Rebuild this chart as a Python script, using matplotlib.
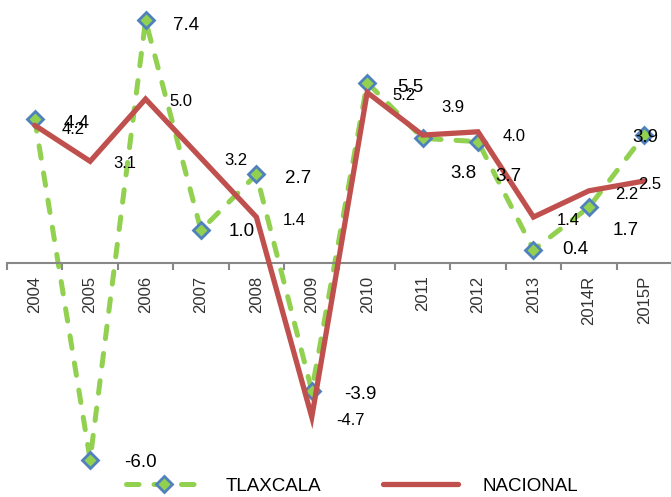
import matplotlib.pyplot as plt
import matplotlib.lines as mlines

plt.rcParams['font.family'] = ['Liberation Sans', 'DejaVu Sans']

# data
years = ['2004', '2005', '2006', '2007', '2008', '2009', '2010',
         '2011', '2012', '2013', '2014R', '2015P']
tlaxcala = [4.4, -6.0, 7.4, 1.0, 2.7, -3.9, 5.5, 3.8, 3.7, 0.4, 1.7, 3.9]
nacional = [4.2, 3.1, 5.0, 3.2, 1.4, -4.7, 5.2, 3.9, 4.0, 1.4, 2.2, 2.5]

# label offsets in pixels (dx, dy)
off_tlax = [(42, -5), (50, -3), (41, -5), (41, -1), (42, -4), (49, -4),
            (43, -5), (41, -35), (30, -35), (42, 0), (37, -23), (1, -2)]
off_nac = [(38, -4), (35, -2), (35, -2), (35, -2), (38, -3), (39, -3),
           (37, -3), (30, 28), (36, -5), (35, -3), (38, -4), (5, -4)]

GREEN = '#92D050'
BLUE = '#4F81BD'
RED = '#C0504D'

fig = plt.figure(figsize=(6.71, 4.97), dpi=100)
ax = fig.add_axes([7 / 671, 17 / 497, 665 / 671, 480 / 497])

x = list(range(len(years)))

ax.plot(x, tlaxcala, color=GREEN, lw=3.6, dashes=(2.5, 3.0),
        dash_capstyle='round', marker='D', markersize=8,
        markerfacecolor=GREEN, markeredgecolor=BLUE, markeredgewidth=2,
        zorder=2)
ax.plot(x, nacional, color=RED, lw=3.8, solid_capstyle='round',
        solid_joinstyle='miter', zorder=3)

for xi, v, (dx, dy) in zip(x, tlaxcala, off_tlax):
    ax.annotate(f'{v:.1f}', (xi, v), xytext=(dx, dy), textcoords='offset pixels',
                ha='center', va='center', fontsize=13.5, color='black', zorder=5)
for xi, v, (dx, dy) in zip(x, nacional, off_nac):
    ax.annotate(f'{v:.1f}', (xi, v), xytext=(dx, dy), textcoords='offset pixels',
                ha='center', va='center', fontsize=12, color='black', zorder=5)

ax.set_xlim(-0.5, len(years) - 0.5)
ax.set_ylim(-6.62, 8.02)

for s in ['top', 'right', 'left']:
    ax.spines[s].set_visible(False)
ax.spines['bottom'].set_position(('data', 0))
ax.spines['bottom'].set_color('#888888')
ax.spines['bottom'].set_linewidth(1.5)
ax.set_yticks([])

ax.set_xticks(x)
ax.set_xticklabels(years, rotation=90, fontsize=12, color='#333333')
ax.tick_params(axis='x', which='major', length=0, pad=9)
ax.set_xticks([i - 0.5 for i in range(len(years) + 1)], minor=True)
ax.tick_params(axis='x', which='minor', length=5, width=1.5, color='#888888')

h1 = mlines.Line2D([], [], color=GREEN, lw=3.6, dashes=(2.5, 3.0),
                   dash_capstyle='round', marker='D', markersize=8,
                   markerfacecolor=GREEN, markeredgecolor=BLUE, markeredgewidth=2)
h2 = mlines.Line2D([], [], color=RED, lw=3.8, solid_capstyle='round')
fig.legend([h1, h2], ['TLAXCALA', 'NACIONAL'], loc='center',
           bbox_to_anchor=(352 / 671, 1 - 486 / 497), ncol=2, frameon=False,
           fontsize=13.5, handlelength=4, handletextpad=1.3, columnspacing=3.3,
           markerscale=1)

fig.savefig('out.png', dpi=100)
